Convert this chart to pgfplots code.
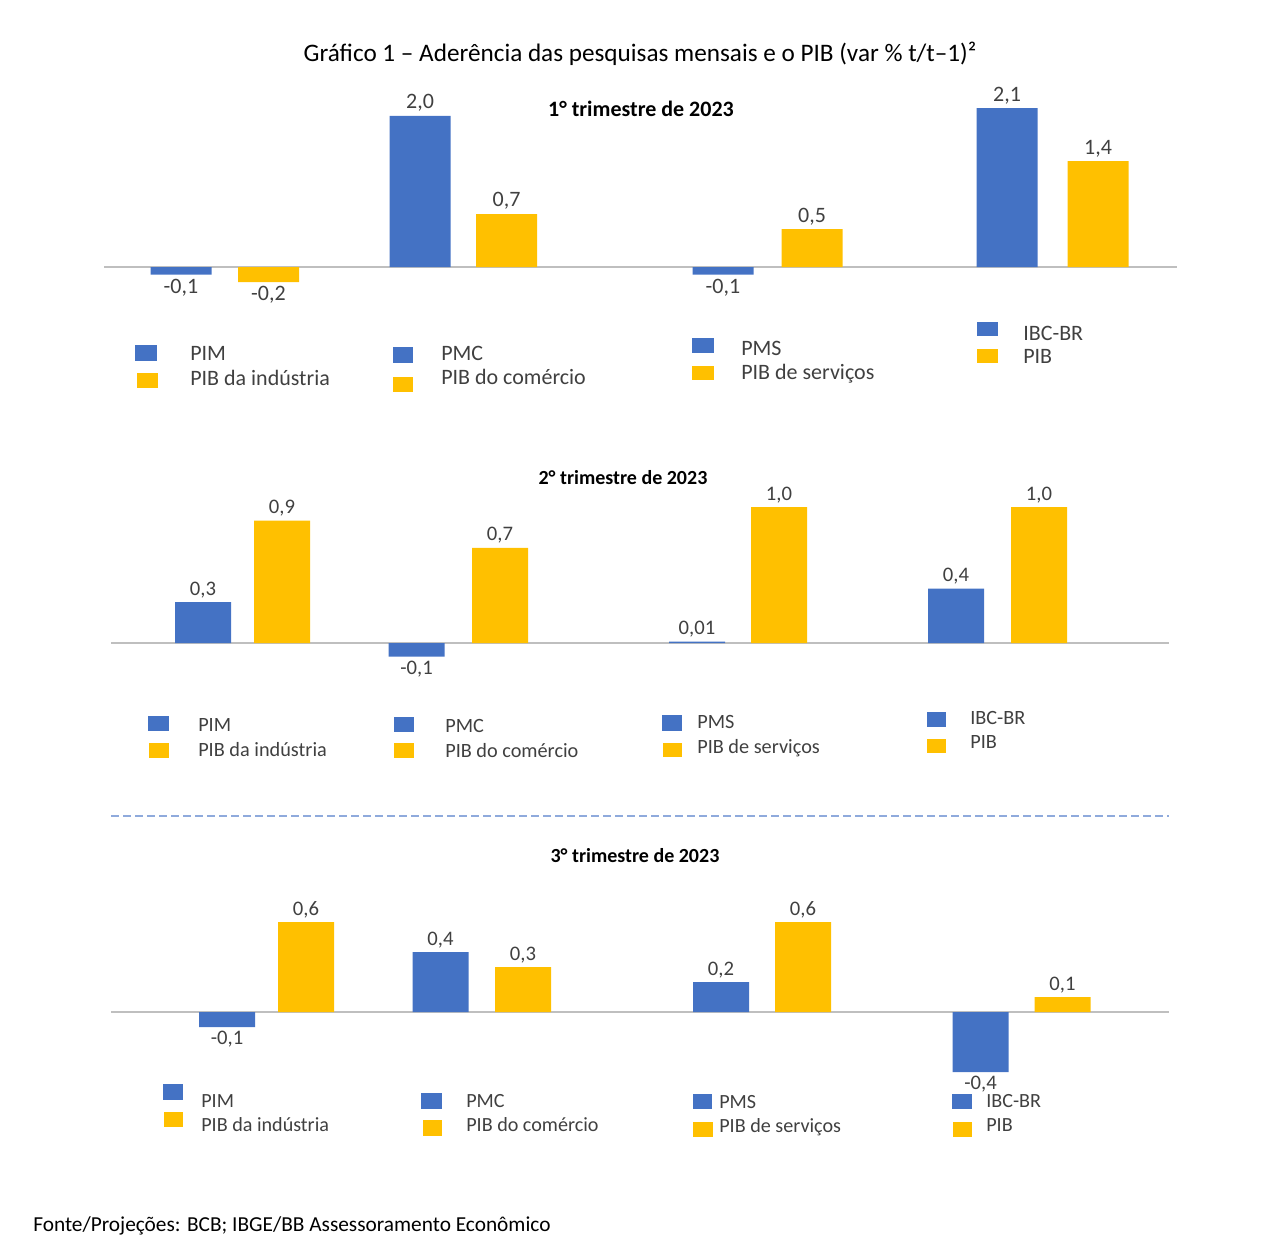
\documentclass[border=0pt]{standalone}
\usepackage{pgfplots}
\usepackage{pgfplotstable}
\pgfplotsset{compat=1.18}
\usepackage{fontspec}
\setmainfont{Carlito}

\definecolor{barblue}{HTML}{4472C4}
\definecolor{baryellow}{HTML}{FFC000}
\definecolor{txt}{HTML}{404040}
\definecolor{zeroline}{HTML}{BFBFBF}
\definecolor{sepline}{HTML}{8FAADC}

% x = bar centre (px), y = variation (%), lab = printed value
\pgfplotstableread{
x    y     lab
181  -0.1  -0,1
420  2.0   2,0
723  -0.1  -0,1
1007 2.1   2,1
}\qoneblue
\pgfplotstableread{
x     y     lab
268.5 -0.2  -0,2
506.5 0.7   0,7
812   0.5   0,5
1098  1.4   1,4
}\qoneyellow
\pgfplotstableread{
x     y     lab
203   0.3   0,3
416.5 -0.1  -0,1
697   0.01  0,01
956   0.4   0,4
}\qtwoblue
\pgfplotstableread{
x     y     lab
282   0.9   0,9
500   0.7   0,7
779   1.0   1,0
1039  1.0   1,0
}\qtwoyellow
\pgfplotstableread{
x     y     lab
227   -0.1  -0,1
440.5 0.4   0,4
721   0.2   0,2
980.5 -0.4  -0,4
}\qthreeblue
\pgfplotstableread{
x      y     lab
306    0.6   0,6
523    0.3   0,3
803    0.6   0,6
1062.5 0.1   0,1
}\qthreeyellow

\pgfplotsset{
  panel/.style={
    x=0.75pt,
    enlargelimits=false,
    clip=false,
    axis x line=middle,
    axis y line=none,
    xtick=\empty, ytick=\empty,
    x axis line style={draw=zeroline, line width=1pt, -},
    ybar,
    anchor=south west,
    point meta=explicit symbolic,
    visualization depends on={rawy \as \rawy},
    nodes near coords,
    every node near coord/.append style={text=txt, inner sep=3pt,
      anchor={\ifdim\rawy pt<0pt north\else south\fi}},
  },
  barsty/.style={draw=none, fill=#1, bar shift=0pt},
}

\begin{document}
\begin{tikzpicture}
\begin{scope}[x=0.75pt, y=-0.75pt]
\useasboundingbox (0,0) rectangle (1280,1256);
\end{scope}

% ---------- 1st quarter ----------
\begin{axis}[panel, at={(78pt,-228.6pt)}, xmin=104, xmax=1177,
  y=56.7pt, ymin=-0.5, ymax=2.6, bar width=61,
  nodes near coords style={font=\fontsize{16.5}{16}\selectfont}]
  \addplot[barsty=barblue] table[x=x, y=y, meta=lab] {\qoneblue};
  \addplot[barsty=baryellow] table[x=x, y=y, meta=lab] {\qoneyellow};
\end{axis}

% ---------- 2nd quarter ----------
\begin{axis}[panel, at={(83.25pt,-512.85pt)}, xmin=111, xmax=1169,
  y=102pt, ymin=-0.3, ymax=1.3, bar width=56,
  nodes near coords style={font=\fontsize{15.5}{15}\selectfont}]
  \addplot[barsty=barblue] table[x=x, y=y, meta=lab] {\qtwoblue};
  \addplot[barsty=baryellow] table[x=x, y=y, meta=lab] {\qtwoyellow};
\end{axis}

% ---------- 3rd quarter ----------
\begin{axis}[panel, at={(83.25pt,-826.5pt)}, xmin=111, xmax=1169,
  y=112.5pt, ymin=-0.6, ymax=0.8, bar width=56,
  nodes near coords style={font=\fontsize{15.5}{15}\selectfont}]
  \addplot[barsty=barblue] table[x=x, y=y, meta=lab] {\qthreeblue};
  \addplot[barsty=baryellow] table[x=x, y=y, meta=lab] {\qthreeyellow};
\end{axis}

\begin{scope}[x=0.75pt, y=-0.75pt]
% title
\node[anchor=base, inner sep=0pt, font=\fontsize{18.9}{20}\selectfont] at (640,62)
  {Gráfico 1 – Aderência das pesquisas mensais e o PIB (var \% t/t–1)²};

% panel headings
\node[anchor=base, font=\bfseries\fontsize{16.5}{17}\selectfont, inner sep=0pt] at (641,116) {1° trimestre de 2023};
\node[anchor=base, font=\bfseries\fontsize{15}{15}\selectfont, inner sep=0pt] at (623,484) {2° trimestre de 2023};
\node[anchor=base, font=\bfseries\fontsize{15}{15}\selectfont, inner sep=0pt] at (635,862) {3° trimestre de 2023};

% legends, 1st quarter
\begin{scope}[font=\fontsize{16.5}{17}\selectfont, text=txt]
  \fill[barblue] (135,345) rectangle (157,361);
  \fill[baryellow] (137,373) rectangle (158,388);
  \node[anchor=base west, inner sep=0pt] at (190,360) {PIM};
  \node[anchor=base west, inner sep=0pt] at (190,385) {PIB da indústria};
  \fill[barblue] (393,347) rectangle (413,363);
  \fill[baryellow] (393,377) rectangle (413,392);
  \node[anchor=base west, inner sep=0pt] at (441,360) {PMC};
  \node[anchor=base west, inner sep=0pt] at (441,384) {PIB do comércio};
  \fill[barblue] (692,338) rectangle (714,353);
  \fill[baryellow] (692,366) rectangle (714,380);
  \node[anchor=base west, inner sep=0pt] at (741,355) {PMS};
  \node[anchor=base west, inner sep=0pt] at (741,379) {PIB de serviços};
  \fill[barblue] (977,322) rectangle (998,336);
  \fill[baryellow] (977,349) rectangle (998,363);
  \node[anchor=base west, inner sep=0pt] at (1023,340) {IBC-BR};
  \node[anchor=base west, inner sep=0pt] at (1023,363) {PIB};
\end{scope}

% legends, 2nd quarter
\begin{scope}[font=\fontsize{15.2}{15}\selectfont, text=txt]
  \fill[barblue] (148,716) rectangle (169,731);
  \fill[baryellow] (149,743) rectangle (169,758);
  \node[anchor=base west, inner sep=0pt] at (198,731) {PIM};
  \node[anchor=base west, inner sep=0pt] at (198,756) {PIB da indústria};
  \fill[barblue] (394,717) rectangle (414,732);
  \fill[baryellow] (394,743) rectangle (414,758);
  \node[anchor=base west, inner sep=0pt] at (445,732) {PMC};
  \node[anchor=base west, inner sep=0pt] at (445,757) {PIB do comércio};
  \fill[barblue] (662,715) rectangle (682,731);
  \fill[baryellow] (663,743) rectangle (682,757);
  \node[anchor=base west, inner sep=0pt] at (697,728) {PMS};
  \node[anchor=base west, inner sep=0pt] at (697,753) {PIB de serviços};
  \fill[barblue] (927,712) rectangle (946,727);
  \fill[baryellow] (927,739) rectangle (946,753);
  \node[anchor=base west, inner sep=0pt] at (970,724) {IBC-BR};
  \node[anchor=base west, inner sep=0pt] at (970,748) {PIB};
\end{scope}

% separator between the panels
\draw[sepline, line width=1pt, dash pattern=on 6pt off 3pt] (111,816) -- (1169,816);

% legends, 3rd quarter
\begin{scope}[font=\fontsize{15.1}{15}\selectfont, text=txt]
  \fill[barblue] (163,1084) rectangle (183,1100);
  \fill[baryellow] (164,1112) rectangle (183,1127);
  \node[anchor=base west, inner sep=0pt] at (201,1107) {PIM};
  \node[anchor=base west, inner sep=0pt] at (201,1131) {PIB da indústria};
  \fill[barblue] (421,1093) rectangle (442,1109);
  \fill[baryellow] (423,1120) rectangle (442,1136);
  \node[anchor=base west, inner sep=0pt] at (466,1107) {PMC};
  \node[anchor=base west, inner sep=0pt] at (466,1131) {PIB do comércio};
  \fill[barblue] (693,1094) rectangle (712,1109);
  \fill[baryellow] (693,1122) rectangle (713,1137);
  \node[anchor=base west, inner sep=0pt] at (719,1108) {PMS};
  \node[anchor=base west, inner sep=0pt] at (719,1132) {PIB de serviços};
  \fill[barblue] (952,1094) rectangle (972,1109);
  \fill[baryellow] (953,1122) rectangle (972,1137);
  \node[anchor=base west, inner sep=0pt] at (986,1107) {IBC-BR};
  \node[anchor=base west, inner sep=0pt] at (986,1131) {PIB};
\end{scope}

% source
\node[anchor=base west, inner sep=0pt, font=\fontsize{16}{16}\selectfont] at (33,1231)
  {Fonte/Projeções: BCB; IBGE/BB Assessoramento Econômico};
\end{scope}
\end{tikzpicture}
\end{document}
